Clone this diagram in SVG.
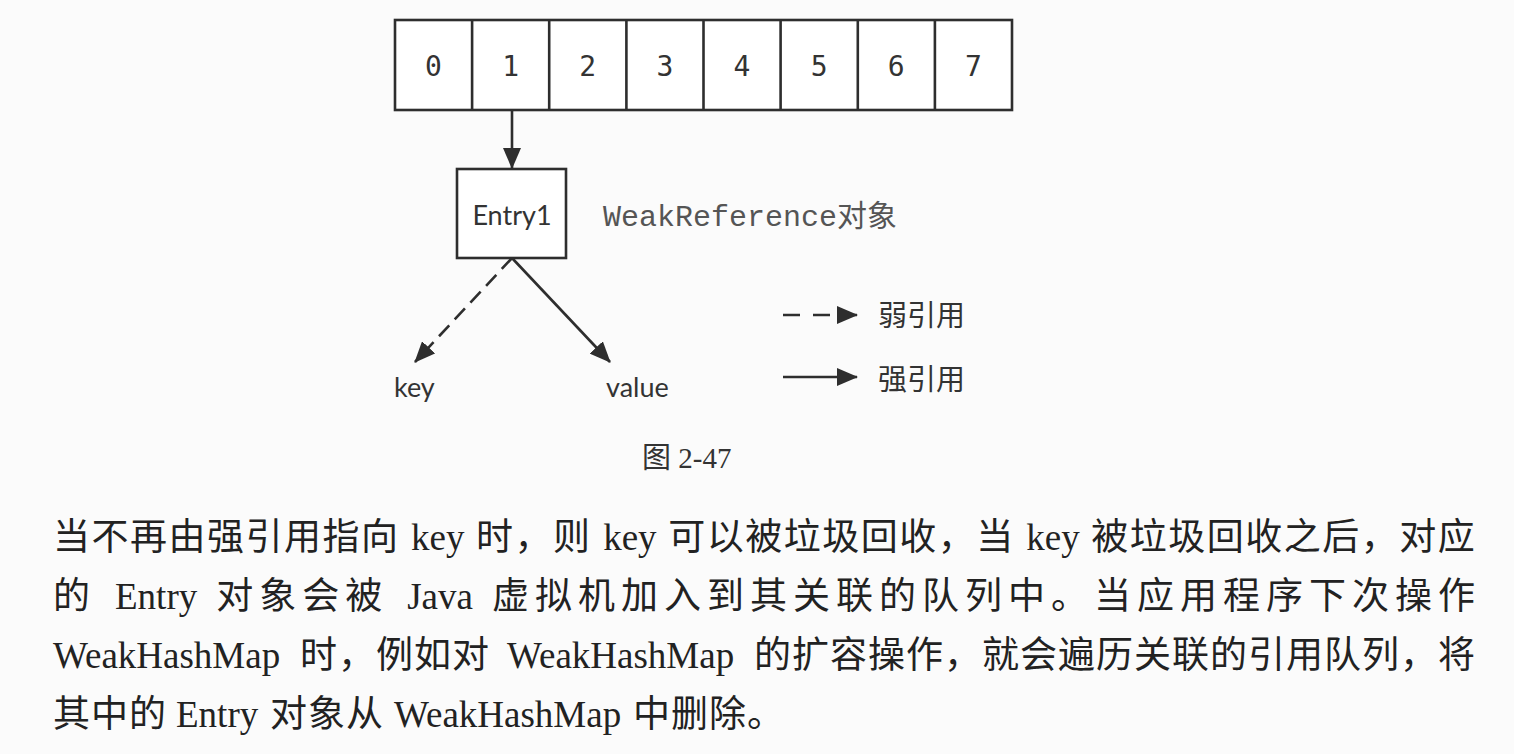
<svg xmlns="http://www.w3.org/2000/svg" width="1514" height="754" viewBox="0 0 1514 754">
<style>
.ln{stroke:#2e2e2e;stroke-width:2.6;fill:none}
.box{stroke:#2e2e2e;stroke-width:2.6;fill:#fff}
.dig{font-family:"DejaVu Sans Mono","Liberation Mono",monospace;font-size:28px;fill:#333;text-anchor:middle}
.lbl{font-family:Lato,"Open Sans",sans-serif;font-size:27px;fill:#333}
.mono{font-family:"Liberation Mono","Noto Sans CJK SC",monospace;font-size:30px;fill:#555}
.leg{font-family:"Noto Sans CJK SC",sans-serif;font-size:29px;fill:#333}
.body{font-family:"Liberation Serif","Noto Sans CJK SC",serif;font-size:37px;fill:#222}
.cap{font-family:"Liberation Serif","Noto Sans CJK SC",serif;font-size:29px;fill:#333}
</style>
<defs>
<marker id="ah" markerUnits="userSpaceOnUse" markerWidth="21" markerHeight="18" viewBox="0 0 21 18" refX="20" refY="9" orient="auto">
<path d="M0,0 L21,9 L0,18 Z" fill="#2e2e2e"/>
</marker>
</defs>
<rect x="0" y="0" width="1514" height="754" fill="#fbfbfb"/>

<g id="array">
<rect class="box" x="395" y="20" width="617" height="90"/>
<path class="ln" d="M472.1,20V110M549.2,20V110M626.4,20V110M703.5,20V110M780.6,20V110M857.8,20V110M934.9,20V110"/>
<text class="dig" x="433.5" y="76">0</text>
<text class="dig" x="510.6" y="76">1</text>
<text class="dig" x="587.8" y="76">2</text>
<text class="dig" x="664.9" y="76">3</text>
<text class="dig" x="742" y="76">4</text>
<text class="dig" x="819.2" y="76">5</text>
<text class="dig" x="896.3" y="76">6</text>
<text class="dig" x="973.4" y="76">7</text>
</g>

<g id="entry1">
<rect class="box" x="457" y="169" width="109" height="89"/>
<text class="lbl" x="512" y="225" text-anchor="middle" font-size="28">Entry1</text>
</g>

<g id="weakref-label">
<text class="mono" x="603" y="226">WeakReference对象</text>
</g>

<g id="key">
<text class="lbl" x="394" y="397">key</text>
</g>

<g id="value">
<text class="lbl" x="606" y="397">value</text>
</g>

<g id="connectors">
<line class="ln" x1="512" y1="110" x2="512" y2="168" marker-end="url(#ah)"/>
<line class="ln" x1="512" y1="258" x2="415" y2="362" stroke-dasharray="15 8" marker-end="url(#ah)"/>
<line class="ln" x1="512" y1="258" x2="610" y2="362" marker-end="url(#ah)"/>
</g>

<g id="legend">
<line class="ln" x1="783" y1="315" x2="857" y2="315" stroke-dasharray="17 13" marker-end="url(#ah)"/>
<text class="leg" x="878" y="326">弱引用</text>
<line class="ln" x1="783" y1="377" x2="857" y2="377" marker-end="url(#ah)"/>
<text class="leg" x="878" y="390">强引用</text>
</g>

<g id="caption">
<text class="cap" x="642" y="468">图 2-47</text>
</g>

<g id="paragraph">
<text class="body" y="550"><tspan x="53" letter-spacing="1.5">当不再由强引用指向</tspan><tspan x="411.1">key</tspan><tspan x="476.1" letter-spacing="1.5">时，则</tspan><tspan x="603.2">key</tspan><tspan x="668.2" letter-spacing="1.5">可以被垃圾回收，当</tspan><tspan x="1026.3">key</tspan><tspan x="1091.3" letter-spacing="1.5">被垃圾回收之后，对应</tspan></text>
<text class="body" y="609"><tspan x="53" letter-spacing="6">的</tspan><tspan x="115">Entry</tspan><tspan x="216.2" letter-spacing="6">对象会被</tspan><tspan x="407.2">Java</tspan><tspan x="492" letter-spacing="6">虚拟机加入到其关联的队列中。当应用程序下次操作</tspan></text>
<text class="body" y="668"><tspan x="53">WeakHashMap</tspan><tspan x="300" letter-spacing="1">时，例如对</tspan><tspan x="507">WeakHashMap</tspan><tspan x="754" letter-spacing="1">的扩容操作，就会遍历关联的引用队列，将</tspan></text>
<text class="body" y="727"><tspan x="53" letter-spacing="1">其中的</tspan><tspan x="176">Entry</tspan><tspan x="270" letter-spacing="1">对象从</tspan><tspan x="394">WeakHashMap</tspan><tspan x="633" letter-spacing="1">中删除。</tspan></text>
</g>
</svg>
